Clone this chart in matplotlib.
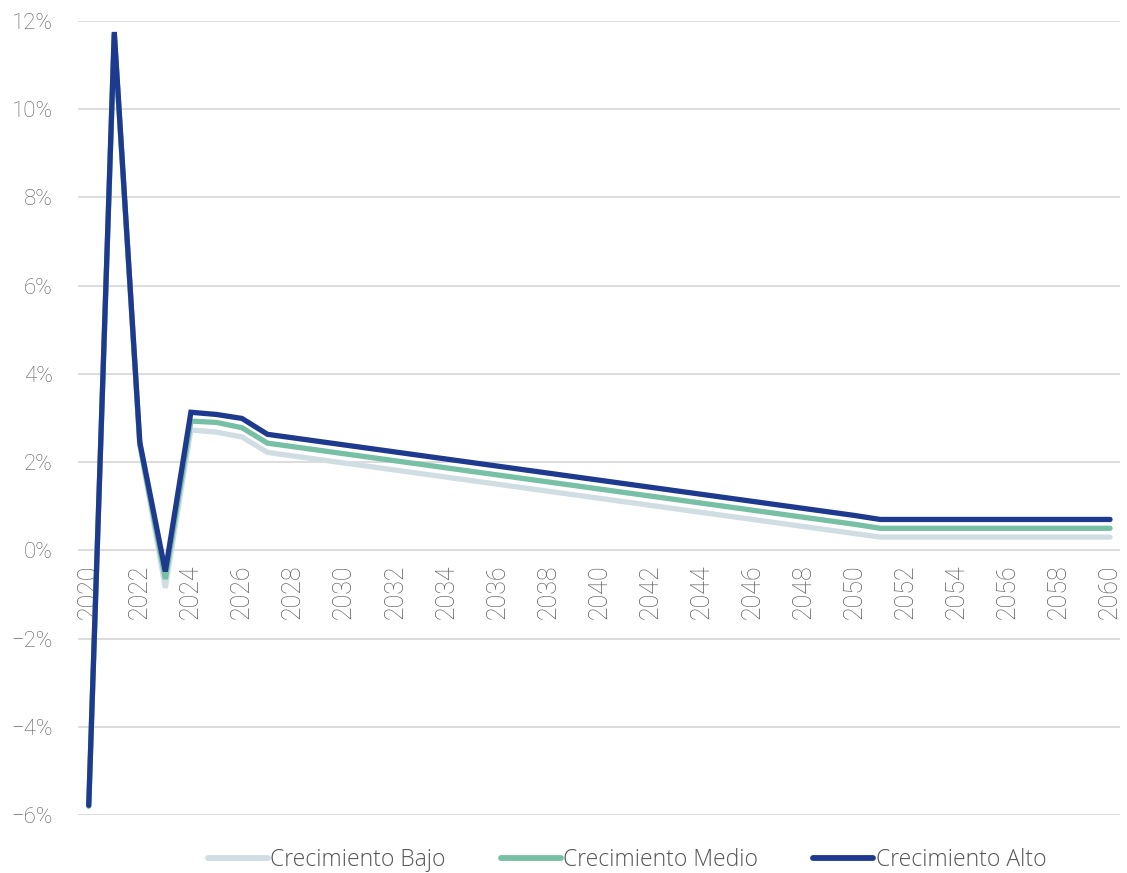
import matplotlib
matplotlib.use("Agg")
import matplotlib.pyplot as plt
from matplotlib.ticker import FuncFormatter

years = list(range(2020, 2061))

# crecimiento anual del PIB (%)
bajo = [-5.80, 11.70, 2.40, -0.85, 2.73, 2.68, 2.57, 2.22, 2.14, 2.06,
        1.98, 1.90, 1.82, 1.74, 1.66, 1.58, 1.50, 1.42, 1.34, 1.26,
        1.18, 1.10, 1.02, 0.94, 0.86, 0.78, 0.70, 0.62, 0.54, 0.46,
        0.38, 0.30, 0.30, 0.30, 0.30, 0.30, 0.30, 0.30, 0.30, 0.30, 0.30]
medio = [-5.80, 11.70, 2.40, -0.65, 2.93, 2.90, 2.78, 2.43, 2.35, 2.27,
         2.19, 2.11, 2.03, 1.95, 1.87, 1.79, 1.71, 1.63, 1.55, 1.47,
         1.39, 1.31, 1.23, 1.15, 1.07, 0.99, 0.91, 0.83, 0.75, 0.67,
         0.59, 0.50, 0.50, 0.50, 0.50, 0.50, 0.50, 0.50, 0.50, 0.50, 0.50]
alto = [-5.78, 11.75, 2.45, -0.48, 3.13, 3.08, 2.99, 2.63, 2.55, 2.47,
        2.39, 2.31, 2.23, 2.15, 2.07, 1.99, 1.91, 1.83, 1.75, 1.67,
        1.59, 1.51, 1.43, 1.35, 1.27, 1.19, 1.11, 1.03, 0.95, 0.87,
        0.79, 0.70, 0.70, 0.70, 0.70, 0.70, 0.70, 0.70, 0.70, 0.70, 0.70]

series = [bajo, medio, alto]
names = ["Crecimiento Bajo", "Crecimiento Medio", "Crecimiento Alto"]
colors = ["#d0dde2", "#77c0a6", "#1e3a8f"]

plt.rcParams["font.family"] = ["Roboto", "DejaVu Sans"]

fig = plt.figure(figsize=(11.27, 8.73), dpi=100)
ax = fig.add_axes([0.069, 0.0664, 0.925, 0.9096])

for s, n, c in zip(series, names, colors):
    ax.plot(years, s, color=c, linewidth=3.8, label=n,
            solid_capstyle="round", solid_joinstyle="miter")

ax.set_xlim(2019.57, 2060.4)
ax.set_ylim(-6, 12)
ax.set_yticks(range(-6, 13, 2))
ax.yaxis.set_major_formatter(FuncFormatter(lambda v, p: "{:.0f}%".format(v).replace("-", "\u2212")))
ax.set_xticks(range(2020, 2061, 2))

ax.grid(axis="y", color="#d9d9d9", linewidth=1.3)
ax.set_axisbelow(True)
for sp in ax.spines.values():
    sp.set_visible(False)
ax.spines["bottom"].set_position(("data", 0))

ax.tick_params(axis="y", length=0, pad=18, labelsize=16, labelcolor="#5e5e5e")
ax.tick_params(axis="x", length=0, pad=10, labelsize=18, labelcolor="#5e5e5e",
               labelrotation=90)
for t in ax.get_yticklabels():
    t.set_fontweight("light")
for t in ax.get_xticklabels():
    t.set_fontweight("light")

leg = ax.legend(loc="center", bbox_to_anchor=(0.527, -0.057), ncol=3, frameon=False,
                handlelength=2.6, handletextpad=0.12, columnspacing=2.4,
                labelcolor="#555555",
                prop={"family": ["Open Sans", "DejaVu Sans"], "weight": "light", "size": 16.5})
for l in leg.get_lines():
    l.set_linewidth(4.2)

fig.savefig("out.png", dpi=100)
